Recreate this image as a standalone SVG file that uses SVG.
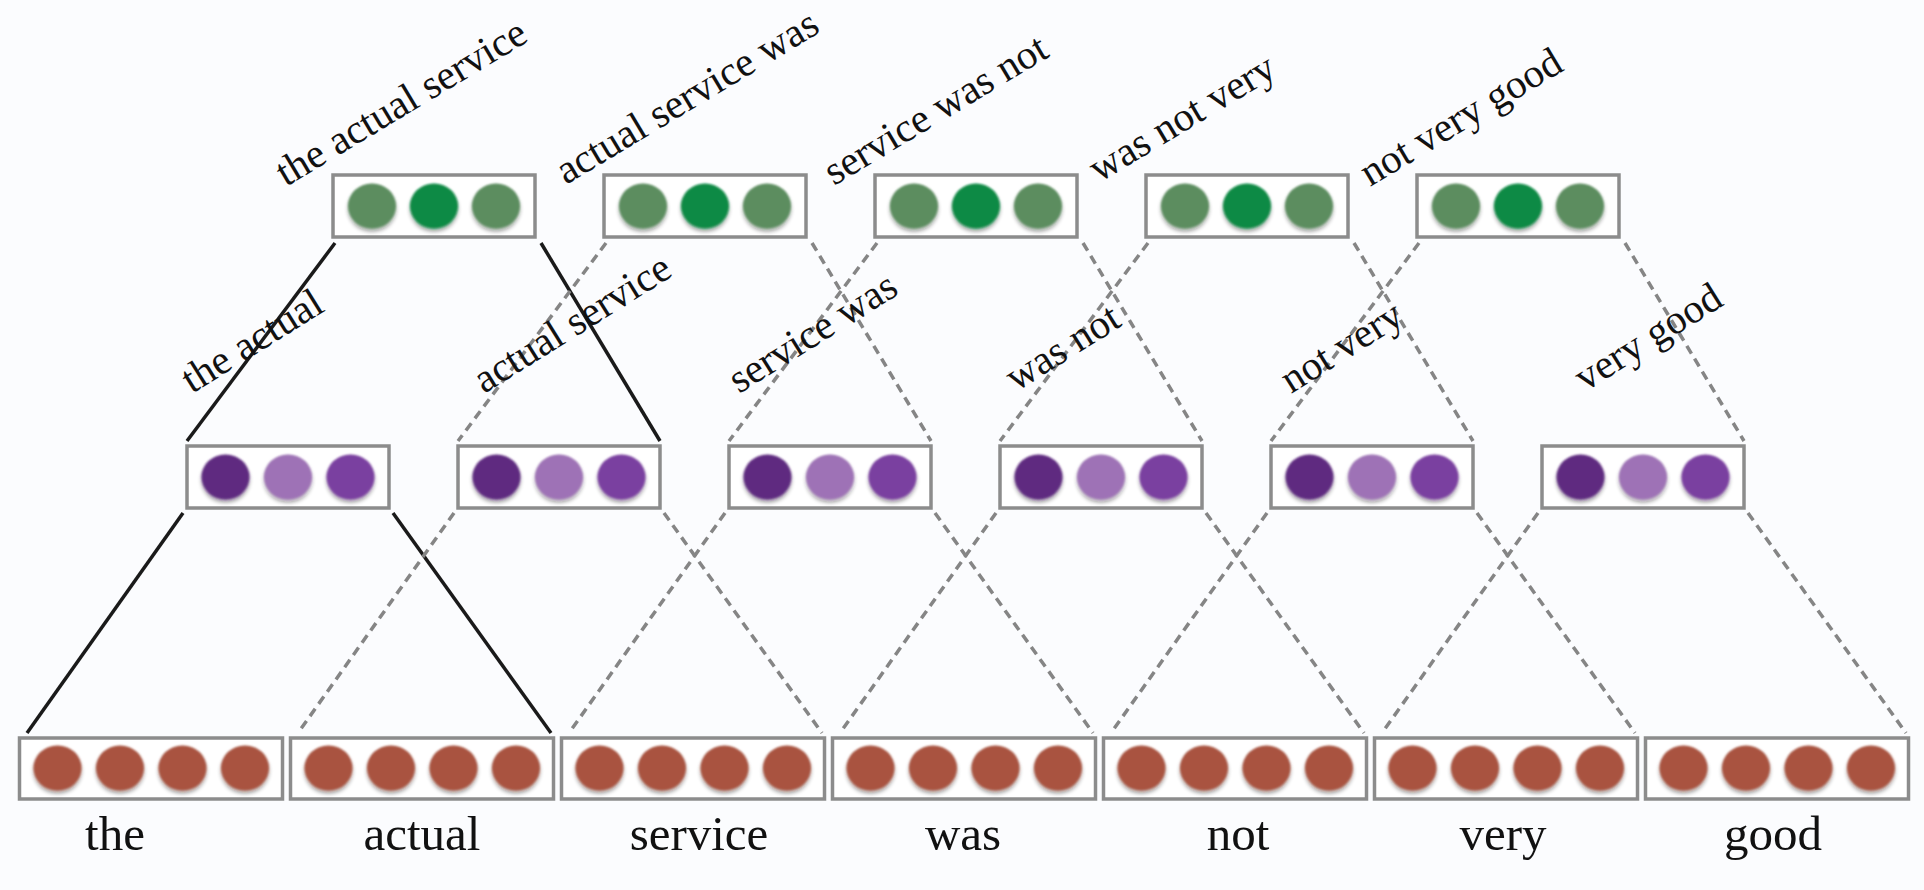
<svg xmlns="http://www.w3.org/2000/svg" width="1924" height="890" viewBox="0 0 1924 890">
<defs>
<filter id="soft" x="-40%" y="-40%" width="180%" height="190%">
<feGaussianBlur in="SourceAlpha" stdDeviation="2.2" result="b"/>
<feOffset in="b" dy="2.5" result="o"/>
<feComponentTransfer in="o" result="s"><feFuncA type="linear" slope="0.4"/></feComponentTransfer>
<feGaussianBlur in="SourceGraphic" stdDeviation="1.1" result="g"/>
<feMerge><feMergeNode in="s"/><feMergeNode in="g"/></feMerge>
</filter>
</defs>
<style>
.box{fill:#ffffff;stroke:#8c8c8c;stroke-width:3.5}
.gl{fill:#5b8d5f;filter:url(#soft)}
.gd{fill:#0d8a45;filter:url(#soft)}
.pd{fill:#5e2c80;filter:url(#soft)}
.pl{fill:#9e72b6;filter:url(#soft)}
.pm{fill:#7a3fa0;filter:url(#soft)}
.br{fill:#a9533f;filter:url(#soft)}
.solid{stroke:#1a1a1a;stroke-width:3.5;fill:none}
.dash{stroke:#858585;stroke-width:3.5;fill:none;stroke-dasharray:9 6}
.lbl{font-family:"Liberation Serif",serif;font-size:41px;fill:#111}
.word{font-family:"Liberation Serif",serif;font-size:49px;fill:#111;text-anchor:middle}
</style>
<rect width="1924" height="890" fill="#fbfcfe"/>

<g id="connectors">
<line class="solid" x1="335" y1="243" x2="187" y2="441"/>
<line class="solid" x1="541" y1="243" x2="660" y2="441"/>
<line class="dash" x1="606" y1="243" x2="458" y2="441"/>
<line class="dash" x1="812" y1="243" x2="931" y2="441"/>
<line class="dash" x1="877" y1="243" x2="729" y2="441"/>
<line class="dash" x1="1083" y1="243" x2="1202" y2="441"/>
<line class="dash" x1="1148" y1="243" x2="1000" y2="441"/>
<line class="dash" x1="1354" y1="243" x2="1473" y2="441"/>
<line class="dash" x1="1419" y1="243" x2="1271" y2="441"/>
<line class="dash" x1="1625" y1="243" x2="1744" y2="441"/>

<line class="solid" x1="183" y1="513" x2="27" y2="733"/>
<line class="solid" x1="393" y1="513" x2="551" y2="733"/>
<line class="dash" x1="454" y1="513" x2="298" y2="733"/>
<line class="dash" x1="664" y1="513" x2="822" y2="733"/>
<line class="dash" x1="725" y1="513" x2="569" y2="733"/>
<line class="dash" x1="935" y1="513" x2="1093" y2="733"/>
<line class="dash" x1="996" y1="513" x2="840" y2="733"/>
<line class="dash" x1="1206" y1="513" x2="1364" y2="733"/>
<line class="dash" x1="1267" y1="513" x2="1111" y2="733"/>
<line class="dash" x1="1477" y1="513" x2="1635" y2="733"/>
<line class="dash" x1="1538" y1="513" x2="1382" y2="733"/>
<line class="dash" x1="1748" y1="513" x2="1906" y2="733"/>
</g>

<!-- top layer -->
<g id="t1">
<rect class="box" x="333" y="175" width="202" height="62"/>
<ellipse class="gl" cx="372" cy="206" rx="24" ry="22.5"/><ellipse class="gd" cx="434" cy="206" rx="24" ry="22.5"/><ellipse class="gl" cx="496" cy="206" rx="24" ry="22.5"/>
<text class="lbl" transform="translate(286,187) rotate(-31)">the actual service</text>
</g>
<g id="t2">
<rect class="box" x="604" y="175" width="202" height="62"/>
<ellipse class="gl" cx="643" cy="206" rx="24" ry="22.5"/><ellipse class="gd" cx="705" cy="206" rx="24" ry="22.5"/><ellipse class="gl" cx="767" cy="206" rx="24" ry="22.5"/>
<text class="lbl" transform="translate(566,185) rotate(-31)">actual service was</text>
</g>
<g id="t3">
<rect class="box" x="875" y="175" width="202" height="62"/>
<ellipse class="gl" cx="914" cy="206" rx="24" ry="22.5"/><ellipse class="gd" cx="976" cy="206" rx="24" ry="22.5"/><ellipse class="gl" cx="1038" cy="206" rx="24" ry="22.5"/>
<text class="lbl" transform="translate(834,186) rotate(-31)">service was not</text>
</g>
<g id="t4">
<rect class="box" x="1146" y="175" width="202" height="62"/>
<ellipse class="gl" cx="1185" cy="206" rx="24" ry="22.5"/><ellipse class="gd" cx="1247" cy="206" rx="24" ry="22.5"/><ellipse class="gl" cx="1309" cy="206" rx="24" ry="22.5"/>
<text class="lbl" transform="translate(1099,183) rotate(-31)">was not very</text>
</g>
<g id="t5">
<rect class="box" x="1417" y="175" width="202" height="62"/>
<ellipse class="gl" cx="1456" cy="206" rx="24" ry="22.5"/><ellipse class="gd" cx="1518" cy="206" rx="24" ry="22.5"/><ellipse class="gl" cx="1580" cy="206" rx="24" ry="22.5"/>
<text class="lbl" transform="translate(1370,187) rotate(-31)">not very good</text>
</g>

<!-- middle layer -->
<g id="m1">
<rect class="box" x="187" y="446" width="202" height="62"/>
<ellipse class="pd" cx="225.5" cy="477" rx="24" ry="22.5"/><ellipse class="pl" cx="288" cy="477" rx="24" ry="22.5"/><ellipse class="pm" cx="350.5" cy="477" rx="24" ry="22.5"/>
<text class="lbl" transform="translate(192,394) rotate(-32)">the actual</text>
</g>
<g id="m2">
<rect class="box" x="458" y="446" width="202" height="62"/>
<ellipse class="pd" cx="496.5" cy="477" rx="24" ry="22.5"/><ellipse class="pl" cx="559" cy="477" rx="24" ry="22.5"/><ellipse class="pm" cx="621.5" cy="477" rx="24" ry="22.5"/>
<text class="lbl" transform="translate(484,394) rotate(-32)">actual service</text>
</g>
<g id="m3">
<rect class="box" x="729" y="446" width="202" height="62"/>
<ellipse class="pd" cx="767.5" cy="477" rx="24" ry="22.5"/><ellipse class="pl" cx="830" cy="477" rx="24" ry="22.5"/><ellipse class="pm" cx="892.5" cy="477" rx="24" ry="22.5"/>
<text class="lbl" transform="translate(739,394) rotate(-32)">service was</text>
</g>
<g id="m4">
<rect class="box" x="1000" y="446" width="202" height="62"/>
<ellipse class="pd" cx="1038.5" cy="477" rx="24" ry="22.5"/><ellipse class="pl" cx="1101" cy="477" rx="24" ry="22.5"/><ellipse class="pm" cx="1163.5" cy="477" rx="24" ry="22.5"/>
<text class="lbl" transform="translate(1016,392) rotate(-32)">was not</text>
</g>
<g id="m5">
<rect class="box" x="1271" y="446" width="202" height="62"/>
<ellipse class="pd" cx="1309.5" cy="477" rx="24" ry="22.5"/><ellipse class="pl" cx="1372" cy="477" rx="24" ry="22.5"/><ellipse class="pm" cx="1434.5" cy="477" rx="24" ry="22.5"/>
<text class="lbl" transform="translate(1291,394) rotate(-32)">not very</text>
</g>
<g id="m6">
<rect class="box" x="1542" y="446" width="202" height="62"/>
<ellipse class="pd" cx="1580.5" cy="477" rx="24" ry="22.5"/><ellipse class="pl" cx="1643" cy="477" rx="24" ry="22.5"/><ellipse class="pm" cx="1705.5" cy="477" rx="24" ry="22.5"/>
<text class="lbl" transform="translate(1585,392) rotate(-32)">very good</text>
</g>

<!-- bottom layer -->
<g id="w1">
<rect class="box" x="19.5" y="738" width="263" height="61"/>
<ellipse class="br" cx="57.5" cy="768" rx="24" ry="22.5"/><ellipse class="br" cx="120" cy="768" rx="24" ry="22.5"/><ellipse class="br" cx="182.5" cy="768" rx="24" ry="22.5"/><ellipse class="br" cx="245" cy="768" rx="24" ry="22.5"/>
<text class="word" x="115" y="850">the</text>
</g>
<g id="w2">
<rect class="box" x="290.5" y="738" width="263" height="61"/>
<ellipse class="br" cx="328.5" cy="768" rx="24" ry="22.5"/><ellipse class="br" cx="391" cy="768" rx="24" ry="22.5"/><ellipse class="br" cx="453.5" cy="768" rx="24" ry="22.5"/><ellipse class="br" cx="516" cy="768" rx="24" ry="22.5"/>
<text class="word" x="422" y="850">actual</text>
</g>
<g id="w3">
<rect class="box" x="561.5" y="738" width="263" height="61"/>
<ellipse class="br" cx="599.5" cy="768" rx="24" ry="22.5"/><ellipse class="br" cx="662" cy="768" rx="24" ry="22.5"/><ellipse class="br" cx="724.5" cy="768" rx="24" ry="22.5"/><ellipse class="br" cx="787" cy="768" rx="24" ry="22.5"/>
<text class="word" x="699" y="850">service</text>
</g>
<g id="w4">
<rect class="box" x="832.5" y="738" width="263" height="61"/>
<ellipse class="br" cx="870.5" cy="768" rx="24" ry="22.5"/><ellipse class="br" cx="933" cy="768" rx="24" ry="22.5"/><ellipse class="br" cx="995.5" cy="768" rx="24" ry="22.5"/><ellipse class="br" cx="1058" cy="768" rx="24" ry="22.5"/>
<text class="word" x="963" y="850">was</text>
</g>
<g id="w5">
<rect class="box" x="1103.5" y="738" width="263" height="61"/>
<ellipse class="br" cx="1141.5" cy="768" rx="24" ry="22.5"/><ellipse class="br" cx="1204" cy="768" rx="24" ry="22.5"/><ellipse class="br" cx="1266.5" cy="768" rx="24" ry="22.5"/><ellipse class="br" cx="1329" cy="768" rx="24" ry="22.5"/>
<text class="word" x="1238" y="850">not</text>
</g>
<g id="w6">
<rect class="box" x="1374.5" y="738" width="263" height="61"/>
<ellipse class="br" cx="1412.5" cy="768" rx="24" ry="22.5"/><ellipse class="br" cx="1475" cy="768" rx="24" ry="22.5"/><ellipse class="br" cx="1537.5" cy="768" rx="24" ry="22.5"/><ellipse class="br" cx="1600" cy="768" rx="24" ry="22.5"/>
<text class="word" x="1503" y="850">very</text>
</g>
<g id="w7">
<rect class="box" x="1645.5" y="738" width="263" height="61"/>
<ellipse class="br" cx="1683.5" cy="768" rx="24" ry="22.5"/><ellipse class="br" cx="1746" cy="768" rx="24" ry="22.5"/><ellipse class="br" cx="1808.5" cy="768" rx="24" ry="22.5"/><ellipse class="br" cx="1871" cy="768" rx="24" ry="22.5"/>
<text class="word" x="1773" y="850">good</text>
</g>
</svg>
